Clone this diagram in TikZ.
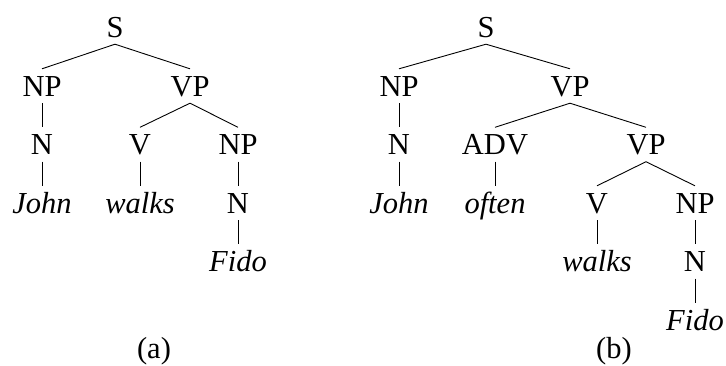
\documentclass[tikz,border=0pt]{standalone}
\usepackage{fontspec}
\setmainfont{Liberation Serif}
\begin{document}
\begin{tikzpicture}[x=1pt,y=-1pt,
  every node/.style={font=\fontsize{30.5}{36}\selectfont, anchor=base,
    inner xsep=1pt, inner ysep=7pt, text height=20pt, text depth=0pt},
  lex/.style={font=\fontsize{30.5}{36}\selectfont\itshape},
  br/.style={line width=0.9pt}]
\useasboundingbox (0,0) rectangle (726,365);
% rows (baselines)
\def\ra{37}\def\rb{96}\def\rc{154.5}\def\rd{213}\def\re{271.5}\def\rf{330}
% tree (a)
\node (aS) at (115,\ra) {S};
\node (aNP) at (42,\rb) {NP};
\node (aVP) at (190,\rb) {VP};
\node (aN) at (42,\rc) {N};
\node (aV) at (140,\rc) {V};
\node (aNPb) at (238,\rc) {NP};
\node[lex] (aJohn) at (42,\rd) {John};
\node[lex] (awalks) at (140,\rd) {walks};
\node (aNb) at (238,\rd) {N};
\node[lex] (aFido) at (238,\re) {Fido};
\node (alab) at (154,358) {(a)};
\draw[br] (aS.south) -- (aNP.north);
\draw[br] (aS.south) -- (aVP.north);
\draw[br] (aNP.south) -- (aN.north);
\draw[br] (aVP.south) -- (aV.north);
\draw[br] (aVP.south) -- (aNPb.north);
\draw[br] (aN.south) -- (aJohn.north);
\draw[br] (aV.south) -- (awalks.north);
\draw[br] (aNPb.south) -- (aNb.north);
\draw[br] (aNb.south) -- (aFido.north);
% tree (b)
\node (bS) at (486,\ra) {S};
\node (bNP) at (399,\rb) {NP};
\node (bVP) at (570,\rb) {VP};
\node (bN) at (399,\rc) {N};
\node (bADV) at (495,\rc) {ADV};
\node (bVPb) at (646,\rc) {VP};
\node[lex] (bJohn) at (399,\rd) {John};
\node[lex] (boften) at (495,\rd) {often};
\node (bV) at (597,\rd) {V};
\node (bNPb) at (695,\rd) {NP};
\node[lex] (bwalks) at (597,\re) {walks};
\node (bNb) at (695,\re) {N};
\node[lex] (bFido) at (695,\rf) {Fido};
\node (blab) at (614,358) {(b)};
\draw[br] (bS.south) -- (bNP.north);
\draw[br] (bS.south) -- (bVP.north);
\draw[br] (bNP.south) -- (bN.north);
\draw[br] (bVP.south) -- (bADV.north);
\draw[br] (bVP.south) -- (bVPb.north);
\draw[br] (bN.south) -- (bJohn.north);
\draw[br] (bADV.south) -- (boften.north);
\draw[br] (bVPb.south) -- (bV.north);
\draw[br] (bVPb.south) -- (bNPb.north);
\draw[br] (bV.south) -- (bwalks.north);
\draw[br] (bNPb.south) -- (bNb.north);
\draw[br] (bNb.south) -- (bFido.north);
\end{tikzpicture}
\end{document}
